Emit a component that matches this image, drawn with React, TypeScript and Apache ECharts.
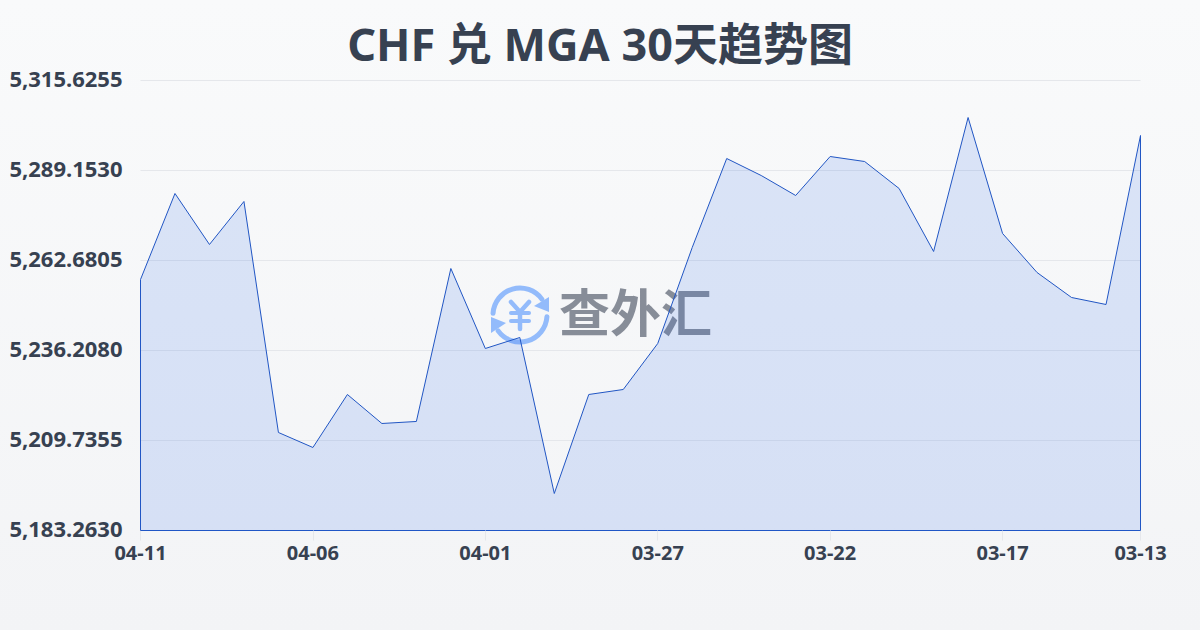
import React, { useEffect, useRef } from "react";
import * as echarts from "echarts";

const dates = ["04-11","04-10","04-09","04-08","04-07","04-06","04-05","04-04","04-03","04-02","04-01","03-31","03-30","03-29","03-28","03-27","03-26","03-25","03-24","03-23","03-22","03-21","03-20","03-19","03-18","03-17","03-16","03-15","03-14","03-13"];
const rates = [5257.09,5282.39,5267.39,5280.04,5212.09,5207.68,5223.27,5214.74,5215.33,5260.33,5236.80,5240.03,5194.15,5223.27,5224.74,5238.27,5266.51,5292.68,5287.68,5281.80,5293.27,5291.80,5283.86,5265.33,5304.74,5270.63,5259.15,5251.80,5249.74,5299.45];
const yTicks = [5183.263,5209.7355,5236.208,5262.6805,5289.153,5315.6255];
const titleText = "CHF 兑 MGA 30天趋势图";
const watermarkText = "查外汇";

const FONT = '"Noto Sans", "Noto Sans CJK SC", sans-serif';
const showTick = (i: number) => i % 5 === 0 || i === dates.length - 1;

export default function App() {
  const ref = useRef<HTMLDivElement>(null);
  useEffect(() => {
    document.body.style.margin = "0";
    const chart = echarts.init(ref.current!, null, { renderer: "svg" });
    const blue = "#93bbfb";
    const lineBlue = "#2156c4";
    chart.setOption({
      animation: false,
      backgroundColor: new echarts.graphic.LinearGradient(0, 0, 0, 1, [
        { offset: 0, color: "#f9fafb" },
        { offset: 1, color: "#f3f4f6" },
      ]),
      title: {
        text: titleText,
        left: "center",
        top: 16,
        textStyle: { fontFamily: FONT, fontSize: 45, fontWeight: "bold", color: "#374151" },
      },
      grid: { left: 140.5, right: 59.5, top: 80.5, bottom: 99.5 },
      xAxis: {
        type: "category",
        boundaryGap: false,
        data: dates,
        axisLine: { show: true, lineStyle: { color: lineBlue, width: 1 } },
        axisTick: { show: true, interval: (i: number) => showTick(i), length: 10, lineStyle: { color: "#e5e7eb" } },
        axisLabel: { interval: (i: number) => showTick(i), fontFamily: FONT, fontSize: 20, fontWeight: "bold", color: "#374151", margin: 12 },
      },
      yAxis: {
        type: "value",
        min: yTicks[0],
        max: yTicks[yTicks.length - 1],
        axisLine: { show: false },
        axisTick: { show: false, customValues: yTicks },
        axisLabel: {
          customValues: yTicks,
          fontFamily: FONT,
          fontSize: 22,
          fontWeight: "bold",
          color: "#374151",
          margin: 18,
          verticalAlign: "bottom",
          lineHeight: 6,
          formatter: (v: number) => v.toLocaleString("en-US", { minimumFractionDigits: 4, maximumFractionDigits: 4 }),
        },
        splitLine: { show: true, lineStyle: { color: "#e5e7eb", width: 1 } },
      },
      series: [
        {
          type: "line",
          z: 3,
          data: rates,
          symbol: "none",
          smooth: false,
          lineStyle: { color: lineBlue, width: 1 },
          areaStyle: { color: "#2563eb", opacity: 0.14 },
          markLine: {
            silent: true,
            symbol: "none",
            label: { show: false },
            lineStyle: { color: lineBlue, width: 1, type: "solid" },
            data: [
              [{ xAxis: 0, yAxis: yTicks[0] }, { xAxis: 0, yAxis: rates[0] }],
              [{ xAxis: dates.length - 1, yAxis: yTicks[0] }, { xAxis: dates.length - 1, yAxis: rates[rates.length - 1] }],
            ],
          },
        },
      ],
      graphic: [
        { type: "text", z: 1, left: 559, top: 284, style: { text: watermarkText, font: `bold 51px "Noto Sans CJK SC"`, fill: "rgba(107,114,128,0.8)" } },
        { type: "arc", z: 1, shape: { cx: 520, cy: 315, r: 27, startAngle: Math.PI * 1.02, endAngle: Math.PI * 1.8 }, style: { stroke: blue, lineWidth: 5, fill: "none", lineCap: "round" } },
        { type: "arc", z: 1, shape: { cx: 520, cy: 315, r: 27, startAngle: Math.PI * 0.02, endAngle: Math.PI * 0.8 }, style: { stroke: blue, lineWidth: 5, fill: "none", lineCap: "round" } },
        { type: "polygon", z: 1, shape: { points: [[549, 297], [549, 312], [534, 306]] }, style: { fill: blue } },
        { type: "polygon", z: 1, shape: { points: [[491, 317], [491, 333], [506, 323]] }, style: { fill: blue } },
        { type: "polyline", z: 1, shape: { points: [[511, 302], [520, 312], [529, 302]] }, style: { stroke: blue, lineWidth: 4.5, fill: "none", lineCap: "round" } },
        { type: "line", z: 1, shape: { x1: 511, y1: 313, x2: 529, y2: 313 }, style: { stroke: blue, lineWidth: 4, lineCap: "round" } },
        { type: "line", z: 1, shape: { x1: 511, y1: 321, x2: 529, y2: 321 }, style: { stroke: blue, lineWidth: 4, lineCap: "round" } },
        { type: "line", z: 1, shape: { x1: 520, y1: 312, x2: 520, y2: 329 }, style: { stroke: blue, lineWidth: 4.5, lineCap: "round" } },
      ],
    });
    return () => chart.dispose();
  }, []);
  return <div ref={ref} style={{ width: 1200, height: 630 }} />;
}
